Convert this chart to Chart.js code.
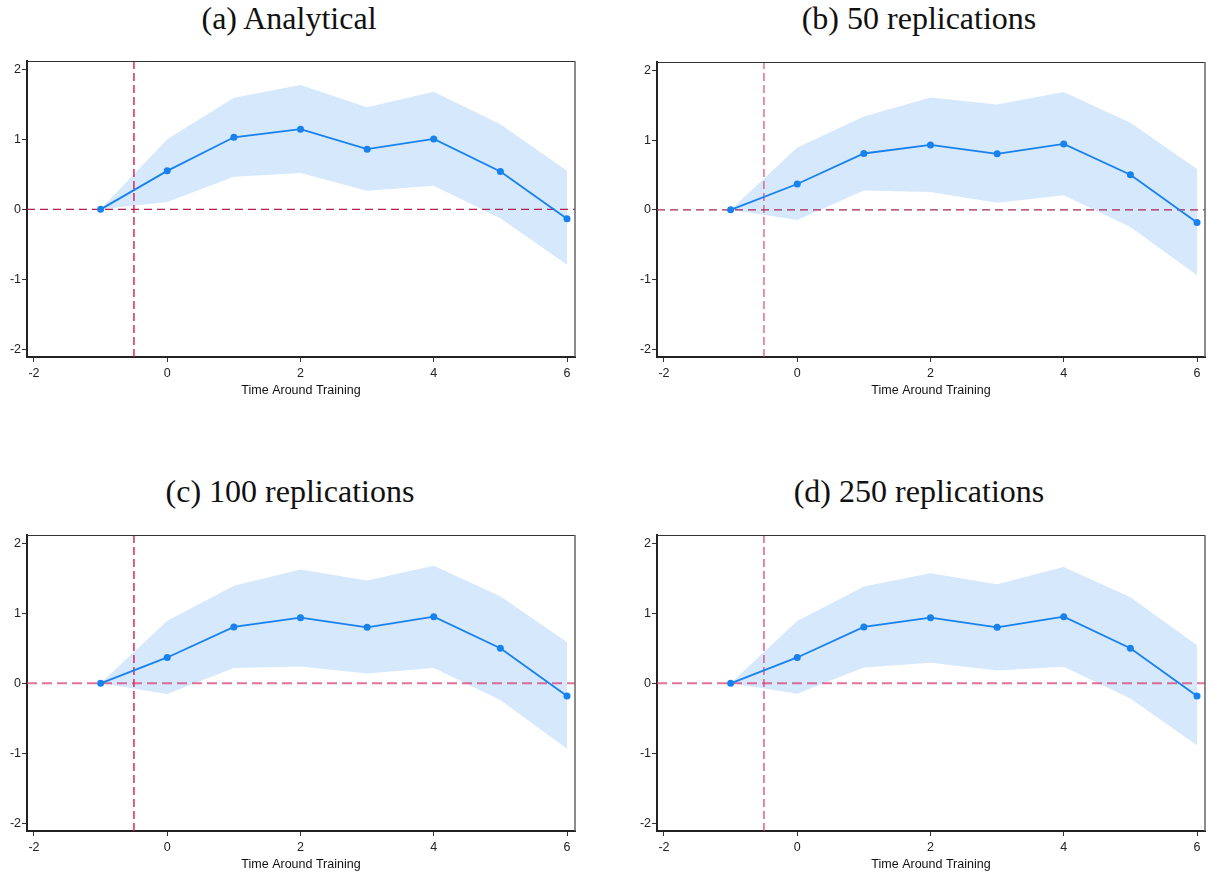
<!DOCTYPE html>
<html><head><meta charset="utf-8">
<script src="https://cdn.jsdelivr.net/npm/chart.js@4.4.1/dist/chart.umd.min.js"></script>
<style>
html,body{margin:0;padding:0;background:#fff;width:1214px;height:873px;overflow:hidden;position:relative}
.title{position:absolute;width:600px;text-align:center;font-family:"Liberation Serif","DejaVu Serif",serif;font-size:32px;color:#111;line-height:36px;white-space:nowrap}
canvas{position:absolute}
</style></head><body>
<div class="title" id="t0" style="left:-11px;top:0px"></div>
<div class="title" id="t1" style="left:619px;top:0px"></div>
<div class="title" id="t2" style="left:-10px;top:473px"></div>
<div class="title" id="t3" style="left:619px;top:473px"></div>
<canvas id="c0" width="590" height="359" style="left:0px;top:40px"></canvas>
<canvas id="c1" width="584" height="359" style="left:630px;top:40px"></canvas>
<canvas id="c2" width="590" height="360" style="left:0px;top:513px"></canvas>
<canvas id="c3" width="584" height="360" style="left:630px;top:513px"></canvas>
<script>
// ---- data ----
const periods = [-1, 0, 1, 2, 3, 4, 5, 6];
const xTicks = [-2, 0, 2, 4, 6];
const yTicks = [-2, -1, 0, 1, 2];
const xAxisTitle = "Time Around Training";
const titles = ["(a) Analytical", "(b) 50 replications", "(c) 100 replications", "(d) 250 replications"];

const estA   = [0, 0.55, 1.03, 1.145, 0.86, 1.007, 0.54, -0.133];
const upperA = [0, 1.00, 1.596, 1.777, 1.458, 1.68, 1.216, 0.551];
const lowerA = [0, 0.105, 0.466, 0.52, 0.266, 0.337, -0.128, -0.793];

const estB   = [0, 0.37, 0.808, 0.931, 0.803, 0.945, 0.504, -0.18];
const upperB = [0, 0.893, 1.34, 1.61, 1.51, 1.69, 1.25, 0.584];
const lowerB = [0, -0.147, 0.276, 0.257, 0.10, 0.209, -0.247, -0.936];

const estC   = [0, 0.37, 0.806, 0.938, 0.80, 0.953, 0.502, -0.18];
const upperC = [0, 0.896, 1.393, 1.626, 1.469, 1.682, 1.246, 0.588];
const lowerC = [0, -0.152, 0.218, 0.242, 0.142, 0.218, -0.237, -0.934];

const estD   = [0, 0.37, 0.806, 0.938, 0.80, 0.953, 0.502, -0.18];
const upperD = [0, 0.89, 1.384, 1.573, 1.417, 1.664, 1.232, 0.545];
const lowerD = [0, -0.147, 0.227, 0.294, 0.185, 0.237, -0.218, -0.886];

const treatmentX = -0.5;
const zeroY = 0;
const xMin = -2.105, xMax = 6.12;
const yMin = -2.11, yMax = 2.12;

// ---- styles ----
const panels = [
  {est: estA, up: upperA, lo: lowerA, padTop: 21, padRight: 15,
   vCol: '#d81b4a', vW: 1.4, vDash: [8,4], hCol: '#b51f4c', hW: 1.3, hDash: [8,5]},
  {est: estB, up: upperB, lo: lowerB, padTop: 22, padRight: 9,
   vCol: 'rgba(220,70,115,0.85)', vW: 1.4, vDash: [8,4], hCol: '#a8264f', hW: 1.3, hDash: [8,5]},
  {est: estC, up: upperC, lo: lowerC, padTop: 22, padRight: 15,
   vCol: '#d81b4a', vW: 1.4, vDash: [8,4], hCol: 'rgba(215,60,110,0.72)', hW: 2, hDash: [10,5]},
  {est: estD, up: upperD, lo: lowerD, padTop: 22, padRight: 9,
   vCol: 'rgba(215,70,115,0.8)', vW: 1.6, vDash: [8,4], hCol: 'rgba(215,60,110,0.72)', hW: 2, hDash: [10,5]}
];

const tickFont = {family: '"Liberation Sans", Arial, sans-serif', size: 12.5};

const framePlugin = {
  id: 'frame',
  afterDraw(chart) {
    const {ctx, chartArea: a} = chart;
    ctx.save();
    ctx.strokeStyle = '#333';
    ctx.lineWidth = 1;
    ctx.beginPath();
    ctx.moveTo(a.left, a.top + 0.5);
    ctx.lineTo(a.right, a.top + 0.5);
    ctx.stroke();
    ctx.strokeStyle = '#666';
    ctx.lineWidth = 1.5;
    ctx.beginPath();
    ctx.moveTo(a.right, a.top);
    ctx.lineTo(a.right, a.bottom);
    ctx.stroke();
    ctx.restore();
  }
};

panels.forEach((p, i) => {
  document.getElementById('t' + i).textContent = titles[i];
  const pts = arr => periods.map((x, k) => ({x: x, y: arr[k]}));
  new Chart(document.getElementById('c' + i), {
    type: 'line',
    data: {
      datasets: [
        {data: pts(p.est), borderColor: '#1781ee', backgroundColor: '#1781ee', borderWidth: 1.8,
         pointRadius: 3.5, pointBorderWidth: 0, fill: false, order: 0, tension: 0},
        {data: [{x: xMin, y: zeroY}, {x: xMax, y: zeroY}], borderColor: p.hCol, borderWidth: p.hW,
         borderDash: p.hDash, pointRadius: 0, fill: false, order: 1},
        {data: [{x: treatmentX, y: yMin}, {x: treatmentX, y: yMax}], borderColor: p.vCol, borderWidth: p.vW,
         borderDash: p.vDash, pointRadius: 0, fill: false, order: 1},
        {data: pts(p.up), borderWidth: 0, borderColor: 'rgba(0,0,0,0)', backgroundColor: '#d5e8fc',
         pointRadius: 0, fill: '+1', order: 2},
        {data: pts(p.lo), borderWidth: 0, borderColor: 'rgba(0,0,0,0)', pointRadius: 0, fill: false, order: 2}
      ]
    },
    options: {
      responsive: false,
      animation: false,
      events: [],
      layout: {padding: {top: p.padTop, right: p.padRight, left: 0, bottom: 0}},
      plugins: {legend: {display: false}, tooltip: {enabled: false}, title: {display: false}},
      scales: {
        x: {
          type: 'linear', min: xMin, max: xMax,
          afterBuildTicks: s => { s.ticks = xTicks.map(v => ({value: v})); },
          afterFit: s => { s.height = 42; },
          ticks: {font: tickFont, color: '#222', padding: 4, maxRotation: 0, callback: v => String(v)},
          grid: {display: true, drawOnChartArea: false, drawTicks: true, tickLength: 5, tickColor: '#333', tickWidth: 1},
          border: {display: true, color: '#222', width: 2},
          title: {display: true, text: xAxisTitle, font: tickFont, color: '#111', padding: {top: 0, bottom: 1}}
        },
        y: {
          type: 'linear', min: yMin, max: yMax,
          afterBuildTicks: s => { s.ticks = yTicks.map(v => ({value: v})); },
          afterFit: s => { s.width = 27; },
          ticks: {font: tickFont, color: '#222', padding: 1, callback: v => String(v)},
          grid: {display: true, drawOnChartArea: false, drawTicks: true, tickLength: 5, tickColor: '#333', tickWidth: 1},
          border: {display: true, color: '#222', width: 2}
        }
      }
    },
    plugins: [framePlugin]
  });
});
</script>
</body></html>
